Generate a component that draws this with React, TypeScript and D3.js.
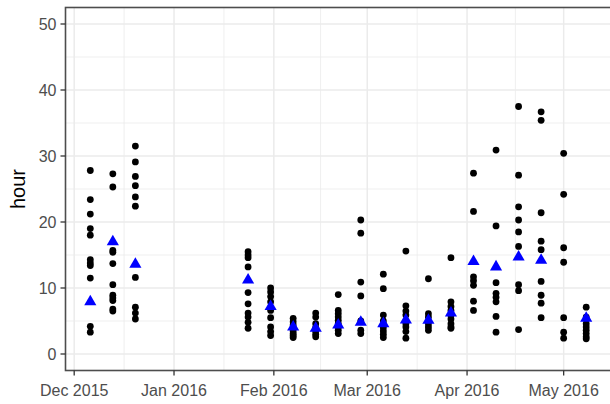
import React from "react";
import * as d3 from "d3";

// one column of points per week (Sunday)
const weeks = [
  "2015-12-06", "2015-12-13", "2015-12-20", "2016-01-24", "2016-01-31",
  "2016-02-07", "2016-02-14", "2016-02-21", "2016-02-28", "2016-03-06",
  "2016-03-13", "2016-03-20", "2016-03-27", "2016-04-03", "2016-04-10",
  "2016-04-17", "2016-04-24", "2016-05-01", "2016-05-08",
];

const hours = [
  [27.8, 23.4, 21.2, 19.0, 18.0, 14.3, 13.8, 13.4, 11.5, 4.2, 3.3],
  [27.3, 25.3, 15.7, 15.4, 13.7, 10.5, 8.9, 8.5, 8.1, 6.8, 6.5],
  [31.5, 29.1, 26.9, 25.5, 23.8, 22.4, 11.6, 7.1, 6.2, 5.3],
  [15.5, 15.0, 14.6, 13.2, 9.3, 7.6, 6.2, 5.6, 4.8, 3.9],
  [10.0, 9.4, 8.7, 7.9, 6.6, 5.5, 4.1, 3.4, 2.8],
  [5.4, 4.9, 4.4, 3.9, 3.5, 3.1, 2.8, 2.5],
  [6.2, 5.6, 4.6, 4.0, 3.5, 3.0, 2.6],
  [9.0, 6.6, 6.1, 5.6, 5.1, 4.6, 4.1, 3.6, 3.1],
  [20.3, 18.3, 10.9, 8.8, 5.0, 3.6, 3.1],
  [12.1, 9.9, 5.9, 5.0, 4.5, 4.0, 3.5, 3.0, 2.5],
  [15.6, 7.3, 6.5, 5.9, 4.6, 4.1, 3.4, 2.4],
  [11.4, 6.1, 5.6, 4.6, 4.1, 3.6],
  [14.6, 7.9, 7.2, 6.6, 5.9, 5.3, 4.6, 4.1, 3.9],
  [27.4, 21.6, 11.7, 11.1, 10.4, 8.0, 6.6],
  [30.9, 19.4, 10.8, 9.2, 8.6, 7.9, 5.7, 3.3],
  [37.5, 27.1, 22.3, 20.3, 18.5, 16.3, 10.5, 9.6, 3.7],
  [36.7, 35.4, 21.4, 17.1, 15.8, 11.0, 8.9, 7.7, 5.5],
  [30.4, 24.2, 16.1, 13.9, 5.5, 3.3, 2.4],
  [7.1, 5.6, 4.6, 4.1, 3.6, 3.1, 2.6, 2.3],
];

// blue triangles (no value for 1 May)
const summary = [
  7.9, 17.0, 13.6, 11.2, 7.2, 4.1, 3.9, 4.4, 4.8, 4.6,
  5.15, 5.1, 6.2, 14.0, 13.2, 14.7, 14.2, null, 5.4,
];

const yTicks = [0, 10, 20, 30, 40, 50];

const W = 610, H = 404;
const left = 65.5, right = 611, top = 7.5, bottom = 370.5;

export default function App() {
  const dates = weeks.map(d => new Date(d + "T00:00:00Z"));
  const [d0, d1] = d3.extent(dates) as [Date, Date];
  const span = +d1 - +d0;
  const x = d3.scaleUtc()
    .domain([new Date(+d0 - span * 0.05), new Date(+d1 + span * 0.05)])
    .range([left, right]);
  const y = d3.scaleLinear().domain([-2.5, 52.5]).range([bottom, top]);

  const xMajor = d3.utcMonth.range(d3.utcMonth.floor(x.domain()[0]), d3.utcMonth.offset(x.domain()[1], 1));
  const xMinor: Date[] = [];
  for (let i = 0; i < xMajor.length - 1; i++) {
    xMinor.push(new Date((+xMajor[i] + +xMajor[i + 1]) / 2));
  }
  const inX = (d: Date) => d >= x.domain()[0] && d <= x.domain()[1];
  const yMinor = yTicks.slice(0, -1).map(v => v + 5);
  const fmt = d3.utcFormat("%b %Y");
  const tri = d3.symbol(d3.symbolTriangle, 64)();

  const points = hours.flatMap((arr, i) => arr.map(v => ({ d: dates[i], v })));

  return (
    <svg width={W} height={H} style={{ position: "absolute", left: 0, top: 0, background: "#fff" }}
      fontFamily="'Liberation Sans', Arial, sans-serif">
      <rect x={0} y={0} width={W} height={H} fill="#fff" />
      <g stroke="#ebebeb">
        {yMinor.map(v => <line key={"ym" + v} x1={left} x2={right} y1={y(v)} y2={y(v)} strokeWidth={0.8} />)}
        {xMinor.filter(inX).map(d => <line key={"xm" + +d} x1={x(d)} x2={x(d)} y1={top} y2={bottom} strokeWidth={0.8} />)}
        {yTicks.map(v => <line key={"y" + v} x1={left} x2={right} y1={y(v)} y2={y(v)} strokeWidth={1.5} />)}
        {xMajor.filter(inX).map(d => <line key={"x" + +d} x1={x(d)} x2={x(d)} y1={top} y2={bottom} strokeWidth={1.5} />)}
      </g>
      {points.map((p, i) => <circle key={i} cx={x(p.d)} cy={y(p.v)} r={3.4} fill="#000" />)}
      {summary.map((v, i) => v == null ? null :
        <path key={"t" + i} d={tri!} transform={`translate(${x(dates[i])},${y(v)})`} fill="#0000ff" />)}
      <rect x={left} y={top} width={right - left} height={bottom - top} fill="none" stroke="#4d4d4d" strokeWidth={1.6} />
      {yTicks.map(v => (
        <g key={"yt" + v}>
          <line x1={left - 5} x2={left} y1={y(v)} y2={y(v)} stroke="#333" strokeWidth={1.3} />
          <text x={left - 9} y={y(v)} dy="0.36em" textAnchor="end" fontSize={16} fill="#4d4d4d">{v}</text>
        </g>
      ))}
      {xMajor.filter(inX).map(d => (
        <g key={"xt" + +d}>
          <line x1={x(d)} x2={x(d)} y1={bottom} y2={bottom + 5} stroke="#333" strokeWidth={1.3} />
          <text x={x(d)} y={396} textAnchor="middle" fontSize={16} fill="#4d4d4d">{fmt(d)}</text>
        </g>
      ))}
      <text transform={`translate(25,${(top + bottom) / 2}) rotate(-90)`} textAnchor="middle" fontSize={20} fill="#000">hour</text>
    </svg>
  );
}
